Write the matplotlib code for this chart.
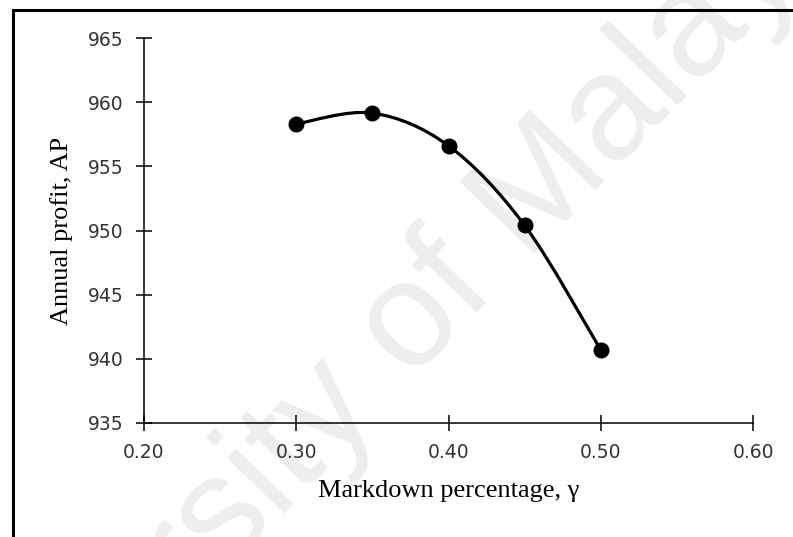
import matplotlib.pyplot as plt
import numpy as np
from matplotlib.path import Path
from matplotlib.patches import PathPatch, Rectangle

# 数据：降价比例 vs 年利润
markdown = [0.30, 0.35, 0.40, 0.45, 0.50]
profit = [958.3, 959.15, 956.6, 950.4, 940.7]
x_ticks = [0.20, 0.30, 0.40, 0.50, 0.60]
y_ticks = [935, 940, 945, 950, 955, 960, 965]

fig = plt.figure(figsize=(7.93, 5.37), dpi=100)

# 水印
fig.text(394 / 793, 1 - 400 / 537, 'University of Malaya', fontsize=108, color='#eeeeee',
         family='Liberation Sans', rotation=46, ha='center', va='baseline',
         rotation_mode='anchor', zorder=0)

# 外框（右边和下边被裁掉）
fig.patches.append(Rectangle((12.5 / 793, -0.05), 1.2, 1 - 9.5 / 537 + 0.05,
                             transform=fig.transFigure, fill=False,
                             edgecolor='black', linewidth=2.2))

ax = fig.add_axes([144 / 793, 1 - 423 / 537, (753 - 144) / 793, (423 - 38) / 537])
ax.patch.set_alpha(0)
ax.set_zorder(2)

# Excel风格的平滑曲线（三次贝塞尔）
pts = np.column_stack([markdown, profit])
verts = [pts[0]]
codes = [Path.MOVETO]
n = len(pts)
for i in range(n - 1):
    p_prev = pts[max(i - 1, 0)]
    p0 = pts[i]
    p1 = pts[i + 1]
    p_next = pts[min(i + 2, n - 1)]
    c1 = p0 + (p1 - p_prev) / 6
    c2 = p1 - (p_next - p0) / 6
    verts += [c1, c2, p1]
    codes += [Path.CURVE4] * 3
ax.add_patch(PathPatch(Path(verts, codes), fill=False, edgecolor='black', linewidth=2.3))
ax.plot(markdown, profit, 'o', color='black', markersize=10.5)

ax.set_xlim(0.2, 0.6)
ax.set_ylim(935, 965)
ax.set_xticks(x_ticks)
ax.set_xticklabels(['%.2f' % v for v in x_ticks])
ax.set_yticks(y_ticks)
for s in ['top', 'right']:
    ax.spines[s].set_visible(False)
for s in ['left', 'bottom']:
    ax.spines[s].set_linewidth(1.1)
ax.tick_params(direction='inout', length=11, width=1.1, pad=9,
               labelsize=13.5, colors='black')
for lab in ax.get_xticklabels() + ax.get_yticklabels():
    lab.set_family('DejaVu Sans')
    lab.set_color('#333333')

ax.set_xlabel('Markdown percentage, γ', family='Liberation Serif', fontsize=19, labelpad=13)
ax.set_ylabel('Annual profit, AP', family='Liberation Serif', fontsize=19, labelpad=11)

fig.savefig('out.png', dpi=100)
